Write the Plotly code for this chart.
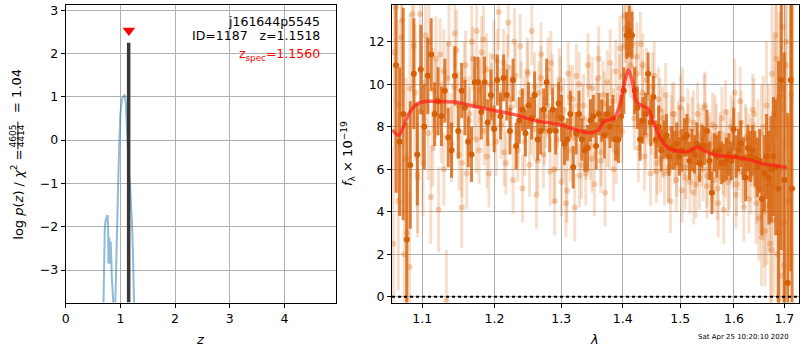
import math
import plotly.graph_objects as go

# ---------------- redshift probability panel ----------------
z_grid = [0.680, 0.690, 0.700, 0.715, 0.730, 0.750, 0.765, 0.775, 0.782, 0.788,
          0.794, 0.800, 0.806, 0.812, 0.818, 0.824, 0.832, 0.845, 0.860, 0.875,
          0.890, 0.900, 0.905, 0.918, 0.936, 0.960, 0.978, 1.000, 1.030, 1.060,
          1.082, 1.100, 1.120, 1.142, 1.160, 1.180, 1.200, 1.215, 1.230, 1.240,
          1.252, 1.265]
log_pz = [-4.6, -3.4, -2.5, -2.05, -1.85, -1.76, -1.73, -1.95, -2.85, -2.25,
          -2.8, -2.25, -2.85, -2.3, -2.8, -2.35, -2.9, -3.2, -3.5, -3.75,
          -4.2, -4.6, -3.9, -3.0, -2.0, -1.0, -0.17, 0.6, 0.95, 1.03,
          1.05, 0.85, 0.3, -0.5, -0.8, -1.1, -1.5, -2.0, -2.6, -3.0,
          -3.9, -4.6]
z_best = 1.1518
z_spec = 1.1560
z_best_height = 2.25
z_spec_marker = 2.53
pz_range = [-3.75, 3.12]
z_range = [0, 4.95]
z_ticks = [0, 1, 2, 3, 4]
pz_ticks = [-3, -2, -1, 0, 1, 2, 3]

# ---------------- 1D spectrum panel ----------------
# binned spectrum
wave_bin = [1.0660, 1.0706, 1.0752, 1.0798, 1.0844, 1.0890, 1.0936, 1.0982, 1.1028, 1.1074,
            1.1120, 1.1166, 1.1212, 1.1258, 1.1304, 1.1350, 1.1396, 1.1442, 1.1488, 1.1534,
            1.1580, 1.1626, 1.1672, 1.1718, 1.1764, 1.1810, 1.1856, 1.1902, 1.1948, 1.1994,
            1.2040, 1.2086, 1.2132, 1.2178, 1.2224, 1.2270, 1.2316, 1.2362, 1.2408, 1.2454,
            1.2500, 1.2546, 1.2592, 1.2638, 1.2684, 1.2730, 1.2776, 1.2822, 1.2868, 1.2914,
            1.2960, 1.3006, 1.3052, 1.3098, 1.3144, 1.3190, 1.3236, 1.3282, 1.3328, 1.3374,
            1.3420, 1.3466, 1.3512, 1.3558, 1.3604, 1.3650, 1.3696, 1.3742, 1.3788, 1.3834,
            1.3880, 1.3926, 1.3972, 1.4018, 1.4064, 1.4110, 1.4156, 1.4202, 1.4248, 1.4294,
            1.4340, 1.4386, 1.4432, 1.4478, 1.4524, 1.4570, 1.4616, 1.4662, 1.4708, 1.4754,
            1.4800, 1.4846, 1.4892, 1.4938, 1.4984, 1.5030, 1.5076, 1.5122, 1.5168, 1.5214,
            1.5260, 1.5306, 1.5352, 1.5398, 1.5444, 1.5490, 1.5536, 1.5582, 1.5628, 1.5674,
            1.5720, 1.5766, 1.5812, 1.5858, 1.5904, 1.5950, 1.5996, 1.6042, 1.6088, 1.6134,
            1.6180, 1.6226, 1.6272, 1.6318, 1.6364, 1.6410, 1.6456, 1.6502, 1.6548, 1.6594,
            1.6640, 1.6686, 1.6732, 1.6778, 1.6824, 1.6880, 1.6935, 1.7000, 1.7069, 1.7131,
            1.7157]
flux_bin = [10.9, 7.3, 8.6, 2.7, 6.2, 10.5, 6.7, 10.7, 8.0, 10.4,
            11.4, 8.6, 9.2, 8.5, 9.7, 7.5, 6.9, 10.4, 7.8, 9.7,
            8.9, 7.3, 6.7, 10.1, 10.1, 8.7, 10.1, 8.2, 9.5, 7.9,
            10.2, 8.5, 10.3, 9.5, 7.8, 10.2, 7.1, 8.3, 8.8, 7.7,
            9.0, 8.4, 9.5, 7.4, 7.8, 8.8, 10.1, 7.8, 8.8, 7.8,
            9.1, 8.4, 7.2, 7.4, 8.6, 6.1, 7.7, 8.6, 7.4, 6.9,
            7.0, 8.3, 8.5, 7.1, 8.6, 8.3, 7.6, 8.6, 8.0, 8.4,
            7.4, 7.4, 8.5, 9.7, 12.3, 12.5, 12.3, 9.7, 8.9, 7.4,
            8.3, 8.6, 10.5, 8.2, 9.4, 7.4, 8.0, 6.9, 7.4, 7.6,
            6.6, 7.0, 6.9, 7.2, 6.6, 6.9, 7.5, 7.6, 6.4, 6.9,
            6.7, 7.2, 6.3, 7.1, 7.1, 7.8, 6.4, 4.9, 6.8, 6.6,
            6.9, 6.3, 6.3, 6.5, 6.7, 6.4, 7.9, 6.6, 6.9, 7.2,
            6.5, 5.6, 7.0, 6.6, 6.9, 6.5, 6.1, 6.4, 4.6, 5.8,
            6.6, 5.6, 6.0, 6.6, 6.1, 5.1, 10.2, 5.5, 0.65, 10.2,
            5.1]
err_bin = [6.0, 3.5, 5.0, 5.5, 3.0, 2.6, 2.4, 2.1, 2.0, 1.8,
           1.7, 1.5, 1.6, 1.4, 1.5, 1.4, 1.3, 1.4, 1.3, 1.3,
           1.3, 1.2, 1.3, 1.2, 1.2, 1.3, 1.2, 1.1, 1.2, 1.1,
           1.2, 1.1, 1.1, 1.2, 1.1, 1.0, 1.1, 1.1, 1.0, 1.1,
           1.1, 1.0, 1.1, 1.0, 1.1, 1.0, 1.1, 1.0, 1.0, 1.1,
           1.0, 1.1, 1.0, 1.0, 1.1, 1.0, 1.0, 1.1, 1.0, 1.0,
           1.1, 1.0, 1.0, 1.1, 1.0, 1.0, 1.1, 1.0, 1.0, 1.1,
           1.0, 1.1, 1.0, 1.1, 1.1, 1.2, 1.1, 1.1, 1.0, 1.0,
           1.1, 1.0, 1.0, 1.1, 1.0, 0.9, 1.0, 1.0, 0.9, 1.0,
           0.9, 1.0, 0.9, 1.0, 0.9, 1.0, 0.9, 1.0, 0.9, 1.0,
           0.9, 1.0, 0.9, 1.0, 0.9, 1.0, 0.9, 1.0, 0.9, 1.0,
           0.9, 1.0, 0.9, 1.0, 1.0, 0.9, 1.0, 1.0, 1.0, 1.1,
           1.0, 1.1, 1.1, 1.2, 1.2, 1.3, 1.4, 1.5, 1.7, 1.8,
           2.0, 2.2, 2.5, 2.8, 3.2, 6.0, 8.0, 6.0, 8.0, 9.0,
           9.0]

# unbinned spectrum, first beam
wave_raw = [1.0625, 1.0660, 1.0695, 1.0730, 1.0765, 1.0800, 1.0835, 1.0870, 1.0905, 1.0940,
            1.0975, 1.1010, 1.1045, 1.1080, 1.1115, 1.1150, 1.1185, 1.1220, 1.1255, 1.1290,
            1.1325, 1.1360, 1.1395, 1.1430, 1.1465, 1.1500, 1.1535, 1.1570, 1.1605, 1.1640,
            1.1675, 1.1710, 1.1745, 1.1780, 1.1815, 1.1850, 1.1885, 1.1920, 1.1955, 1.1990,
            1.2025, 1.2060, 1.2095, 1.2130, 1.2165, 1.2200, 1.2235, 1.2270, 1.2305, 1.2340,
            1.2375, 1.2410, 1.2445, 1.2480, 1.2515, 1.2550, 1.2585, 1.2620, 1.2655, 1.2690,
            1.2725, 1.2760, 1.2795, 1.2830, 1.2865, 1.2900, 1.2935, 1.2970, 1.3005, 1.3040,
            1.3075, 1.3110, 1.3145, 1.3180, 1.3215, 1.3250, 1.3285, 1.3320, 1.3355, 1.3390,
            1.3425, 1.3460, 1.3495, 1.3530, 1.3565, 1.3600, 1.3635, 1.3670, 1.3705, 1.3740,
            1.3775, 1.3810, 1.3845, 1.3880, 1.3915, 1.3950, 1.3985, 1.4020, 1.4055, 1.4090,
            1.4125, 1.4160, 1.4195, 1.4230, 1.4265, 1.4300, 1.4335, 1.4370, 1.4405, 1.4440,
            1.4475, 1.4510, 1.4545, 1.4580, 1.4615, 1.4650, 1.4685, 1.4720, 1.4755, 1.4790,
            1.4825, 1.4860, 1.4895, 1.4930, 1.4965, 1.5000, 1.5035, 1.5070, 1.5105, 1.5140,
            1.5175, 1.5210, 1.5245, 1.5280, 1.5315, 1.5350, 1.5385, 1.5420, 1.5455, 1.5490,
            1.5525, 1.5560, 1.5595, 1.5630, 1.5665, 1.5700, 1.5735, 1.5770, 1.5805, 1.5840,
            1.5875, 1.5910, 1.5945, 1.5980, 1.6015, 1.6050, 1.6085, 1.6120, 1.6155, 1.6190,
            1.6225, 1.6260, 1.6295, 1.6330, 1.6365, 1.6400, 1.6435, 1.6470, 1.6505, 1.6540,
            1.6575, 1.6610, 1.6645, 1.6680, 1.6715, 1.6750, 1.6785, 1.6820, 1.6855, 1.6890,
            1.6925, 1.6960, 1.6995, 1.7030]
flux_raw = [2.5, 13.6, 9.0, 12.2, 2.0, 3.0, 1.4, 13.3, 9.6, 5.8,
            13.3, 6.3, 12.3, 7.7, 4.7, 9.7, 11.2, 4.1, 8.2, 10.6,
            -0.2, 11.9, 7.2, 9.9, 11.6, 6.7, 4.2, 10.2, 5.8, 8.6,
            12.0, 9.1, 12.5, 6.9, 11.5, 7.8, 10.7, 5.8, 9.4, 11.3,
            7.3, 13.4, 8.1, 11.0, 6.3, 12.9, 9.3, 5.5, 10.4, 7.7,
            11.8, 5.1, 8.9, 10.6, 6.2, 12.5, 7.9, 4.8, 9.6, 11.4,
            6.7, 8.5, 10.7, 5.9, 9.9, 4.5, 7.4, 10.2, 5.4, 8.8,
            4.4, 10.5, 6.9, 9.3, 4.2, 7.6, 10.0, 6.2, 9.0, 5.8,
            10.9, 7.1, 9.8, 5.3, 8.7, 11.2, 6.4, 9.5, 4.9, 10.1,
            7.5, 9.2, 6.0, 10.6, 8.0, 11.7, 7.8, 13.2, 11.8, 12.8,
            10.9, 11.9, 8.4, 10.5, 7.0, 11.9, 9.6, 6.6, 10.2, 8.7,
            5.8, 9.9, 7.3, 5.9, 9.3, 6.5, 8.4, 5.8, 7.9, 6.1,
            4.5, 8.6, 6.9, 5.5, 7.7, 8.9, 5.0, 7.3, 6.1, 8.3,
            5.4, 7.9, 4.9, 6.6, 8.6, 5.6, 7.4, 6.0, 9.0, 5.2,
            7.0, 6.3, 8.1, 5.5, 7.6, 4.4, 6.8, 8.4, 4.1, 6.2,
            7.3, 5.6, 8.0, 6.6, 9.6, 5.3, 7.2, 9.2, 5.9, 4.2,
            7.5, 6.2, 7.0, 5.6, 8.8, 6.4, 4.4, 7.3, 5.1, 2.8,
            8.0, 3.1, 4.3, 7.0, 2.5, 10.5, 3.6, 12.3, 2.0, 9.4,
            1.0, 12.7, 3.5, 10.9]
err_raw = [4.5, 4.5, 4.0, 4.0, 4.0, 3.8, 3.5, 3.5, 3.2, 3.0,
           2.8, 2.5, 2.4, 2.2, 2.2, 2.0, 2.0, 2.0, 1.9, 2.0,
           2.4, 1.9, 1.8, 1.8, 1.9, 1.7, 1.9, 1.8, 1.7, 1.8,
           1.8, 1.7, 1.7, 1.6, 1.7, 1.6, 1.7, 1.6, 1.6, 1.7,
           1.6, 1.8, 1.6, 1.6, 1.5, 1.6, 1.6, 1.6, 1.5, 1.6,
           1.5, 1.6, 1.5, 1.6, 1.5, 1.6, 1.5, 1.6, 1.5, 1.5,
           1.6, 1.5, 1.5, 1.6, 1.5, 1.6, 1.5, 1.5, 1.6, 1.5,
           1.6, 1.5, 1.5, 1.6, 1.6, 1.5, 1.5, 1.6, 1.5, 1.5,
           1.5, 1.6, 1.5, 1.5, 1.6, 1.5, 1.5, 1.6, 1.6, 1.5,
           1.5, 1.6, 1.5, 1.5, 1.6, 1.5, 1.5, 1.6, 1.6, 1.6,
           1.5, 1.6, 1.5, 1.5, 1.6, 1.5, 1.5, 1.6, 1.5, 1.5,
           1.5, 1.6, 1.5, 1.5, 1.5, 1.6, 1.5, 1.5, 1.5, 1.6,
           1.5, 1.5, 1.6, 1.5, 1.5, 1.5, 1.5, 1.6, 1.5, 1.5,
           1.5, 1.5, 1.5, 1.6, 1.5, 1.5, 1.5, 1.5, 1.6, 1.5,
           1.5, 1.5, 1.5, 1.5, 1.5, 1.6, 1.5, 1.5, 1.6, 1.5,
           1.5, 1.5, 1.5, 1.5, 1.6, 1.5, 1.5, 1.6, 1.5, 1.6,
           1.6, 1.6, 1.6, 1.7, 1.7, 1.8, 1.9, 2.0, 2.1, 2.3,
           2.4, 2.6, 2.8, 3.0, 3.2, 3.4, 3.6, 3.8, 4.0, 4.0,
           4.0, 4.0, 4.0, 4.0]

# unbinned spectrum, second beam
wave_raw2 = [1.0640, 1.0690, 1.0740, 1.0790, 1.0840, 1.0890, 1.0940, 1.0990, 1.1040, 1.1090,
             1.1140, 1.1190, 1.1240, 1.1290, 1.1340, 1.1390, 1.1440, 1.1490, 1.1540, 1.1590,
             1.1640, 1.1690, 1.1740, 1.1790, 1.1840, 1.1890, 1.1940, 1.1990, 1.2040, 1.2090,
             1.2140, 1.2190, 1.2240, 1.2290, 1.2340, 1.2390, 1.2440, 1.2490, 1.2540, 1.2590,
             1.2640, 1.2690, 1.2740, 1.2790, 1.2840, 1.2890, 1.2940, 1.2990, 1.3040, 1.3090,
             1.3140, 1.3190, 1.3240, 1.3290, 1.3340, 1.3390, 1.3440, 1.3490, 1.3540, 1.3590,
             1.3640, 1.3690, 1.3740, 1.3790, 1.3840, 1.3890, 1.3940, 1.3990, 1.4040, 1.4090,
             1.4140, 1.4190, 1.4240, 1.4290, 1.4340, 1.4390, 1.4440, 1.4490, 1.4540, 1.4590,
             1.4640, 1.4690, 1.4740, 1.4790, 1.4840, 1.4890, 1.4940, 1.4990, 1.5040, 1.5090,
             1.5140, 1.5190, 1.5240, 1.5290, 1.5340, 1.5390, 1.5440, 1.5490, 1.5540, 1.5590,
             1.5640, 1.5690, 1.5740, 1.5790, 1.5840, 1.5890, 1.5940, 1.5990, 1.6040, 1.6090,
             1.6140, 1.6190, 1.6240, 1.6290, 1.6340, 1.6390, 1.6440, 1.6490, 1.6540, 1.6590,
             1.6640, 1.6690, 1.6740, 1.6790, 1.6840, 1.6890, 1.6940, 1.6990, 1.7040, 1.7090,
             1.7140]
flux_raw2 = [11.5, 4.5, 13.0, 6.5, 9.8, 11.8, 5.6, 8.7, 10.1, 12.0,
             7.0, 9.3, 11.4, 6.0, 10.3, 8.0, 12.4, 9.0, 6.3, 10.9,
             8.3, 11.2, 7.4, 9.7, 12.1, 6.6, 10.0, 8.6, 11.1, 9.3,
             6.8, 10.8, 8.9, 12.0, 6.9, 9.6, 7.3, 10.5, 8.2, 9.9,
             6.4, 10.3, 7.8, 9.0, 11.0, 6.0, 8.5, 9.8, 7.1, 5.0,
             9.4, 7.5, 10.4, 5.7, 8.4, 7.0, 9.9, 6.5, 8.1, 10.3,
             6.8, 9.1, 7.6, 11.0, 8.3, 6.8, 9.8, 10.4, 12.6, 11.4,
             12.2, 9.4, 11.3, 8.1, 10.9, 7.6, 9.4, 8.2, 10.4, 6.3,
             8.8, 7.2, 9.5, 5.9, 7.9, 8.6, 6.2, 7.4, 9.3, 5.6,
             7.5, 6.4, 8.2, 5.3, 7.6, 6.7, 8.9, 5.7, 7.2, 6.0,
             8.0, 5.1, 7.1, 6.3, 8.7, 5.4, 6.9, 7.8, 4.8, 6.5,
             8.2, 5.8, 7.4, 4.6, 6.8, 8.6, 5.2, 3.7, 7.7, 4.0,
             9.0, 5.3, 2.2, 8.6, 11.2, 3.0, 9.8, 1.5, 12.0, 4.5,
             9.5]
err_raw2 = [4.5, 4.2, 4.0, 3.8, 3.5, 3.0, 2.6, 2.3, 2.1, 1.9,
            1.8, 1.8, 1.7, 1.7, 1.7, 1.6, 1.7, 1.6, 1.6, 1.6,
            1.6, 1.5, 1.6, 1.5, 1.6, 1.5, 1.5, 1.6, 1.5, 1.5,
            1.6, 1.5, 1.5, 1.6, 1.5, 1.5, 1.6, 1.5, 1.5, 1.6,
            1.5, 1.5, 1.6, 1.5, 1.5, 1.6, 1.5, 1.5, 1.6, 1.5,
            1.5, 1.6, 1.5, 1.5, 1.6, 1.5, 1.5, 1.6, 1.5, 1.5,
            1.6, 1.5, 1.5, 1.6, 1.5, 1.5, 1.6, 1.5, 1.6, 1.6,
            1.5, 1.5, 1.6, 1.5, 1.5, 1.6, 1.5, 1.5, 1.6, 1.5,
            1.5, 1.6, 1.5, 1.5, 1.6, 1.5, 1.5, 1.6, 1.5, 1.5,
            1.6, 1.5, 1.5, 1.6, 1.5, 1.5, 1.6, 1.5, 1.5, 1.6,
            1.5, 1.5, 1.6, 1.5, 1.5, 1.6, 1.5, 1.5, 1.6, 1.5,
            1.5, 1.6, 1.5, 1.6, 1.6, 1.7, 1.8, 2.0, 2.3, 2.6,
            3.0, 3.2, 3.4, 3.6, 3.8, 4.0, 4.0, 4.0, 4.0, 4.0,
            4.0]

# best-fit template
wave_model = [1.0613, 1.0694, 1.0823, 1.0930, 1.1039, 1.1218, 1.1466, 1.1720, 1.2004, 1.2294,
              1.2591, 1.2845, 1.3052, 1.3262, 1.3448, 1.3584, 1.3691, 1.3856, 1.3939, 1.4023,
              1.4097, 1.4164, 1.4238, 1.4335, 1.4431, 1.4535, 1.4652, 1.4798, 1.4948, 1.5127,
              1.5309, 1.5401, 1.5555, 1.5805, 1.6060, 1.6318, 1.6580, 1.6848, 1.7050]
flux_model = [7.86, 7.60, 8.60, 9.07, 9.19, 9.19, 9.15, 8.95, 8.76, 8.57,
              8.29, 8.17, 8.03, 7.83, 7.72, 7.83, 8.25, 8.42, 8.91, 10.0,
              10.70, 10.08, 9.15, 8.99, 8.84, 8.14, 7.44, 6.98, 6.87, 6.82,
              7.05, 6.93, 6.74, 6.62, 6.56, 6.43, 6.25, 6.16, 6.08]

wave_ticks = [1.1, 1.2, 1.3, 1.4, 1.5, 1.6, 1.7]
wave_range = [1.0609, 1.7302]
flux_range = [-0.27, 13.73]
flux_ticks = [0, 2, 4, 6, 8, 10, 12]

# ---------------- figure ----------------
FONT = "DejaVu Sans"
GRID = "#b0b0b0"
ORANGE = "rgb(214,96,8)"

fig = go.Figure()

fig.add_trace(go.Scatter(
    x=z_grid, y=log_pz, mode="lines", xaxis="x", yaxis="y",
    line=dict(color="rgba(31,119,180,0.5)", width=2)))
fig.add_trace(go.Scatter(
    x=[z_best, z_best], y=[pz_range[0], z_best_height], mode="lines",
    xaxis="x", yaxis="y", line=dict(color="rgba(45,45,45,0.95)", width=3.5)))
fig.add_trace(go.Scatter(
    x=[z_spec], y=[z_spec_marker], mode="markers", xaxis="x", yaxis="y",
    marker=dict(symbol="triangle-down", size=11, color="red", line=dict(width=0))))

for wv, fl, er in [(wave_raw, flux_raw, err_raw), (wave_raw2, flux_raw2, err_raw2)]:
    fig.add_trace(go.Scatter(
        x=wv, y=fl, mode="markers", xaxis="x2", yaxis="y2",
        marker=dict(size=6, color="rgba(217,95,2,0.28)", line=dict(width=0)),
        error_y=dict(type="data", array=er, visible=True, thickness=3, width=0,
                     color="rgba(217,95,2,0.2)")))
fig.add_trace(go.Scatter(
    x=wave_bin, y=flux_bin, mode="markers", xaxis="x2", yaxis="y2",
    marker=dict(size=6, color=ORANGE, line=dict(width=0)),
    error_y=dict(type="data", array=err_bin, visible=True, thickness=3, width=0,
                 color="rgba(214,96,8,0.78)")))
fig.add_trace(go.Scatter(
    x=wave_model, y=flux_model, mode="lines", xaxis="x2", yaxis="y2",
    line=dict(color="rgba(255,25,20,0.68)", width=3.5, shape="spline", smoothing=0.8)))

fig.add_shape(type="line", xref="x2 domain", yref="y2", x0=0, x1=1, y0=0, y1=0,
              line=dict(color="black", width=2, dash="dot"))

axis_common = dict(
    showgrid=True, gridcolor=GRID, gridwidth=1, zeroline=False,
    showline=True, linecolor="black", linewidth=1, mirror=True,
    ticks="outside", ticklen=4, tickcolor="black", tickwidth=1,
    tickfont=dict(family=FONT, size=12.5, color="black"))

fig.update_layout(
    width=800, height=350, margin=dict(l=0, r=0, t=0, b=0),
    paper_bgcolor="white", plot_bgcolor="white", showlegend=False,
    font=dict(family=FONT, color="black"),
    xaxis=dict(domain=[0.0775, 0.4175], range=z_range, tickvals=z_ticks,
               anchor="y", **axis_common),
    yaxis=dict(domain=[0.1314, 0.9914], range=pz_range, tickvals=pz_ticks,
               anchor="x", **axis_common),
    xaxis2=dict(domain=[0.4875, 0.99875], type="log",
                range=[math.log10(wave_range[0]), math.log10(wave_range[1])],
                tickvals=wave_ticks, ticktext=[f"{w:.1f}" for w in wave_ticks],
                anchor="y2", **axis_common),
    yaxis2=dict(domain=[0.1314, 0.9914], range=flux_range, tickvals=flux_ticks,
                anchor="x2", **axis_common),
)

ann = []
def label(text, x, y, size=12.5, color="black", angle=0, xanchor="center"):
    ann.append(dict(text=text, x=x, y=y, xref="paper", yref="paper",
                    xanchor=xanchor, yanchor="middle", showarrow=False,
                    textangle=angle, font=dict(family=FONT, size=size, color=color)))

# info box
label("j161644p5545", 320 / 800, 1 - 19.5 / 350, xanchor="right")
label("ID=1187\u00a0\u00a0\u00a0z=1.1518", 320 / 800, 1 - 34 / 350, xanchor="right")
label("z<sub>spec</sub>=1.1560", 320 / 800, 1 - 53 / 350, color="red", xanchor="right")

# axis titles
label("<i>z</i>", 197 / 800, 1 - 341 / 350, size=13)
label("<i>λ</i>", 593 / 800, 1 - 341 / 350, size=13)
label("<i>f</i><sub>λ</sub> × 10<sup>−19</sup>", 345 / 800, 1 - 153.5 / 350, size=13, angle=-90)
label("log <i>p</i>(<i>z</i>) / <i>χ</i><sup>2</sup> =", 13 / 800, 1 - 195 / 350, size=13, angle=-90)
label("4605", 10 / 800, 1 - 135 / 350, size=9, angle=-90)
label("4414", 18 / 800, 1 - 135 / 350, size=9, angle=-90)
label("= 1.04", 13 / 800, 1 - 90 / 350, size=13, angle=-90)
label("Sat Apr 25 10:20:10 2020", 743 / 800, 1 - 339 / 350, size=7)

fig.update_layout(annotations=ann)
fig.add_shape(type="line", xref="paper", yref="paper",
              x0=14 / 800, x1=14 / 800, y0=1 - 121 / 350, y1=1 - 149 / 350,
              line=dict(color="black", width=1))

fig.write_html("out.html")
